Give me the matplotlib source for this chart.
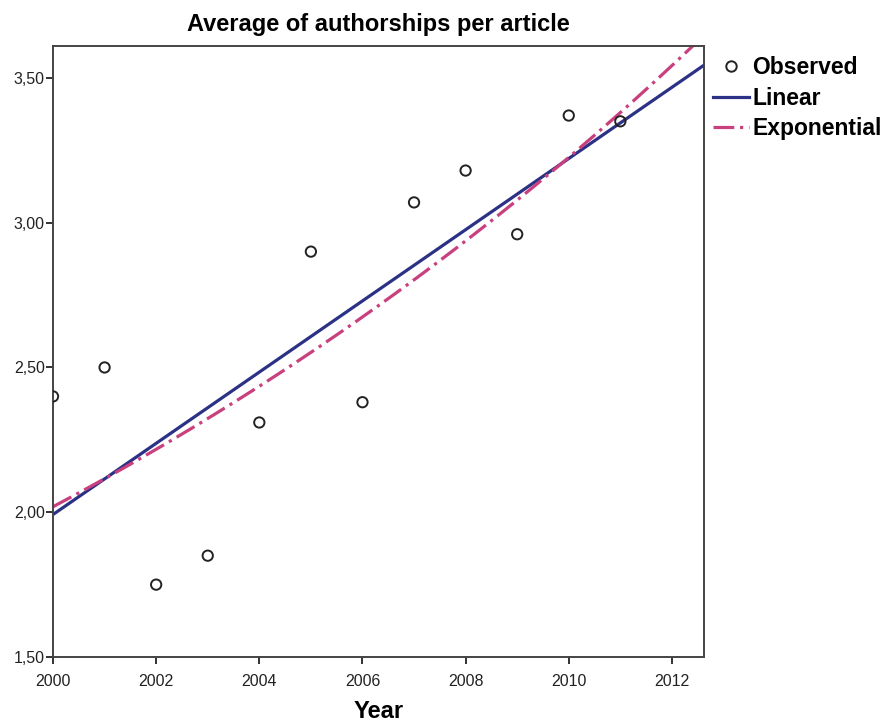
import numpy as np
import matplotlib.pyplot as plt
from matplotlib.lines import Line2D
from matplotlib.ticker import FuncFormatter

plt.rcParams['font.family'] = ['Liberation Sans', 'DejaVu Sans']

years = [2000, 2001, 2002, 2003, 2004, 2005, 2006, 2007, 2008, 2009, 2010, 2011]
observed = [2.40, 2.50, 1.75, 1.85, 2.31, 2.90, 2.38, 3.07, 3.18, 2.96, 3.37, 3.35]

x = np.array(years, dtype=float)
y = np.array(observed)

# curve fits, as SPSS does them
b_lin = np.polyfit(x, y, 1)
b_exp = np.polyfit(x, np.log(y), 1)
xs = np.linspace(2000, 2012.65, 200)
y_lin = np.polyval(b_lin, xs)
y_exp = np.exp(np.polyval(b_exp, xs))

lin_col = '#2b3285'
exp_col = '#c9407f'
dash = (6.5, 1.8, 1.0, 1.8)
lw = 2.3

fig = plt.figure(figsize=(8.91, 7.26), dpi=100)
ax = fig.add_axes([0.0595, 0.095, 0.7305, 0.8416])

ax.plot(xs, y_lin, color=lin_col, lw=lw, solid_capstyle='butt')
ax.plot(xs, y_exp, color=exp_col, lw=lw, dashes=dash)
ax.scatter(x, y, s=55, facecolors='none', edgecolors='#222222', linewidths=1.4, zorder=3)

ax.set_xlim(2000, 2012.62)
ax.set_ylim(1.5, 3.61)
ax.set_xticks([2000, 2002, 2004, 2006, 2008, 2010, 2012])
ax.set_yticks([1.5, 2.0, 2.5, 3.0, 3.5])
ax.yaxis.set_major_formatter(FuncFormatter(lambda v, p: f"{v:.2f}".replace('.', ',')))
ax.tick_params(direction='out', length=5, width=1.3, labelsize=11.5, colors='#222222', pad=1)
ax.tick_params(axis='x', pad=7)
for s in ax.spines.values():
    s.set_linewidth(1.4)
    s.set_color('#444444')

ax.set_title("Average of authorships per article", fontsize=17, fontweight='bold', pad=11)
ax.set_xlabel("Year", fontsize=17, fontweight='bold', labelpad=8)

handles = [
    Line2D([], [], ls='none', marker='o', markersize=7.5, markerfacecolor='none',
           markeredgecolor='#222222', markeredgewidth=1.4),
    Line2D([], [], color=lin_col, lw=lw),
    Line2D([], [], color=exp_col, lw=lw, dashes=dash),
]
fig.legend(handles, ["Observed", "Linear", "Exponential"], loc='upper left',
           bbox_to_anchor=(0.79, 0.935), frameon=False,
           prop={'weight': 'bold', 'size': 16.5}, handlelength=1.55,
           handletextpad=0.15, labelspacing=0.32, borderaxespad=0)

fig.savefig("out.png", dpi=100)
